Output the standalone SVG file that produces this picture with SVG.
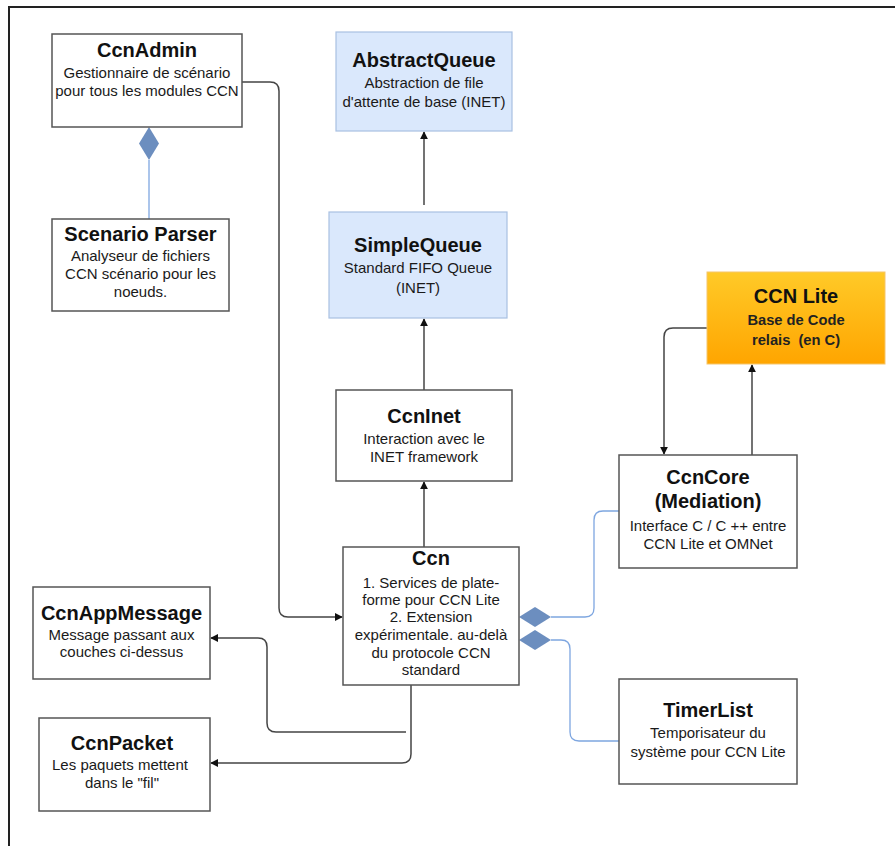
<svg xmlns="http://www.w3.org/2000/svg" width="895" height="846" viewBox="0 0 895 846">
<style>
.box{fill:#fff;stroke:#555;stroke-width:1.5}
.blue{fill:#dae8fc;stroke:#a9c0e2;stroke-width:1.2}
.t{font-family:"Liberation Sans",Arial,sans-serif;font-weight:bold;font-size:20px;fill:#111;text-anchor:middle}
.s{font-family:"Liberation Sans",Arial,sans-serif;font-size:15px;fill:#1a1a1a;text-anchor:middle}
.sb{font-family:"Liberation Sans",Arial,sans-serif;font-size:14.7px;font-weight:bold;fill:#222;text-anchor:middle}
.c{fill:none;stroke:#444;stroke-width:1.5}
.cb{fill:none;stroke:#7ea6e0;stroke-width:1.3}
.dia{fill:#6c8ebf;stroke:none}
</style>
<defs>
<marker id="arr" viewBox="0 0 10 10" refX="9" refY="5" markerWidth="8" markerHeight="8" markerUnits="userSpaceOnUse" orient="auto">
<path d="M0,0 L10,5 L0,10 z" fill="#111"/>
</marker>
<linearGradient id="og" x1="0" y1="0" x2="0" y2="1">
<stop offset="0" stop-color="#ffca28"/>
<stop offset="1" stop-color="#ffa500"/>
</linearGradient>
</defs>
<rect width="895" height="846" fill="#fff"/>
<path d="M9,846 V7 H895" fill="none" stroke="#222" stroke-width="2"/>

<g id="connectors">
<path class="c" d="M242,82 H270 Q279,82 279,91 V608 Q279,617 288,617 H342" marker-end="url(#arr)"/>
<path class="c" d="M424,205 V132" marker-end="url(#arr)"/>
<path class="c" d="M424,390 V319" marker-end="url(#arr)"/>
<path class="c" d="M424,547 V482" marker-end="url(#arr)"/>
<path class="c" d="M752,455 V365" marker-end="url(#arr)"/>
<path class="c" d="M707,328 H673 Q664,328 664,337 V454" marker-end="url(#arr)"/>
<path class="c" d="M411,685 V754 Q411,763 402,763 H211" marker-end="url(#arr)"/>
<path class="c" d="M406,732 H276 Q267,732 267,723 V647 Q267,638 258,638 H211" marker-end="url(#arr)"/>
<path class="cb" d="M551,617 H585 Q594,617 594,608 V520 Q594,511 603,511 H619"/>
<path class="cb" d="M551,640 H561 Q570,640 570,649 V732 Q570,741 579,741 H619"/>
<path class="cb" d="M149,160 V219"/>
<polygon class="dia" points="519,617 535,607 551,617 535,627"/>
<polygon class="dia" points="519,640 535,630 551,640 535,650"/>
<polygon class="dia" points="149,127 159,143.5 149,160 139,143.5"/>
</g>

<g id="CcnAdmin">
<rect class="box" x="52" y="34" width="190" height="93"/>
<text class="t" x="147" y="57">CcnAdmin</text>
<text class="s" x="147" y="78">Gestionnaire de scénario</text>
<text class="s" x="147" y="96">pour tous les modules CCN</text>
</g>

<g id="ScenarioParser">
<rect class="box" x="52" y="219" width="177" height="92"/>
<text class="t" x="140.5" y="241">Scenario Parser</text>
<text class="s" x="140.5" y="261">Analyseur de fichiers</text>
<text class="s" x="140.5" y="279">CCN scénario pour les</text>
<text class="s" x="140.5" y="297">noeuds.</text>
</g>

<g id="AbstractQueue">
<rect class="blue" x="336" y="32" width="176" height="99"/>
<text class="t" x="424" y="67">AbstractQueue</text>
<text class="s" x="424" y="88">Abstraction de file</text>
<text class="s" x="424" y="107">d'attente de base (INET)</text>
</g>

<g id="SimpleQueue">
<rect class="blue" x="329" y="212" width="178" height="106"/>
<text class="t" x="418" y="252">SimpleQueue</text>
<text class="s" x="418" y="273">Standard FIFO Queue</text>
<text class="s" x="418" y="293">(INET)</text>
</g>

<g id="CCNLite">
<rect x="707" y="272" width="178" height="92" fill="url(#og)" stroke="#f5c56a" stroke-width="1"/>
<text class="t" x="796" y="303">CCN Lite</text>
<text class="sb" x="796" y="325">Base de Code</text>
<text class="sb" x="796" y="345" xml:space="preserve">relais  (en C)</text>
</g>

<g id="CcnInet">
<rect class="box" x="336" y="390" width="176" height="91"/>
<text class="t" x="424" y="423">CcnInet</text>
<text class="s" x="424" y="444">Interaction avec le</text>
<text class="s" x="424" y="462">INET framework</text>
</g>

<g id="CcnCore">
<rect class="box" x="619" y="455" width="178" height="113"/>
<text class="t" x="708" y="484">CcnCore</text>
<text class="t" x="708" y="508">(Mediation)</text>
<text class="s" x="708" y="531">Interface C / C ++ entre</text>
<text class="s" x="708" y="549">CCN Lite et OMNet</text>
</g>

<g id="Ccn">
<rect class="box" x="343" y="547" width="176" height="138"/>
<text class="t" x="431" y="565">Ccn</text>
<text class="s" x="431" y="588">1. Services de plate-</text>
<text class="s" x="431" y="605">forme pour CCN Lite</text>
<text class="s" x="431" y="622">2. Extension</text>
<text class="s" x="431" y="640">expérimentale. au-delà</text>
<text class="s" x="431" y="658">du protocole CCN</text>
<text class="s" x="431" y="675">standard</text>
</g>

<g id="CcnAppMessage">
<rect class="box" x="33" y="587" width="177" height="92"/>
<text class="t" x="121.5" y="620">CcnAppMessage</text>
<text class="s" x="121.5" y="640">Message passant aux</text>
<text class="s" x="121.5" y="657">couches ci-dessus</text>
</g>

<g id="CcnPacket">
<rect class="box" x="39" y="718" width="171" height="93"/>
<text class="t" x="122" y="750">CcnPacket</text>
<text class="s" x="120" y="770">Les paquets mettent</text>
<text class="s" x="122" y="788">dans le "fil"</text>
</g>

<g id="TimerList">
<rect class="box" x="619" y="679" width="178" height="105"/>
<text class="t" x="708" y="717">TimerList</text>
<text class="s" x="708" y="738">Temporisateur du</text>
<text class="s" x="708" y="757">système pour CCN Lite</text>
</g>
</svg>
